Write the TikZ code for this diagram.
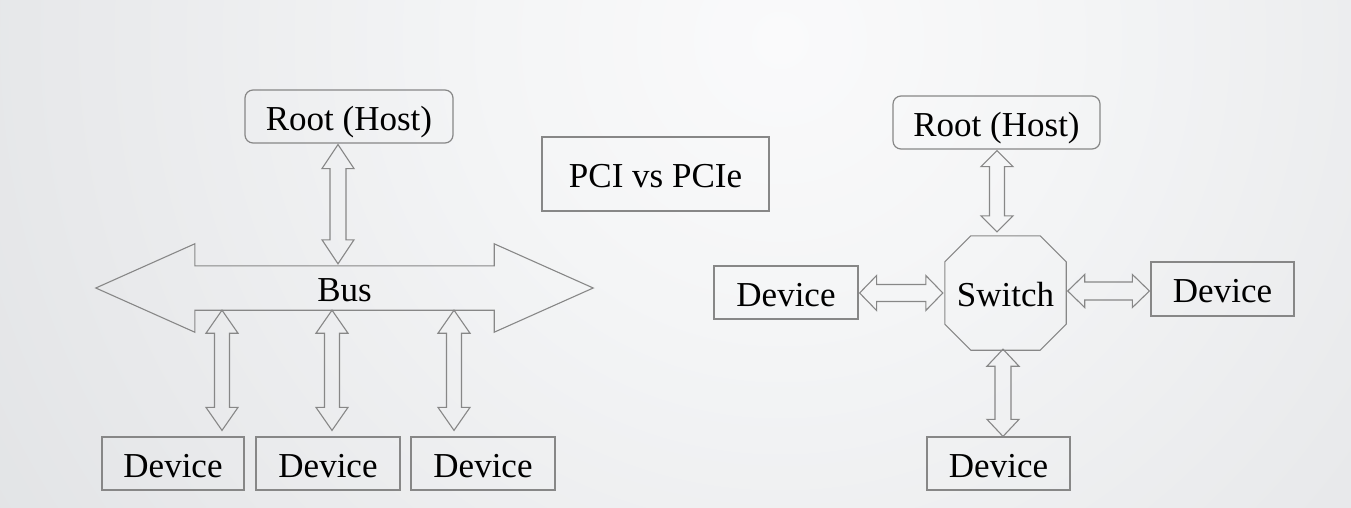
\documentclass[tikz,border=0pt]{standalone}
\usepackage{fontspec}
\setmainfont{Liberation Serif}
\usetikzlibrary{calc}
\definecolor{linegray}{RGB}{135,135,135}
\definecolor{bgA}{RGB}{250,250,251}
\definecolor{bgB}{RGB}{244,245,246}
\definecolor{bgC}{RGB}{232,233,235}
\definecolor{bgD}{RGB}{218,221,223}
\definecolor{bgE}{RGB}{211,215,218}
\pgfdeclareradialshading{bgshade}{\pgfpoint{0bp}{0bp}}{color(0bp)=(bgA); color(7.2bp)=(bgB); color(18bp)=(bgC); color(30bp)=(bgD); color(36bp)=(bgE); color(50bp)=(bgE)}
\newcommand\dblarr[5]{\draw[conn] (#1) -- ($(#1)!#5!(#2)!#3!90:(#2)$) -- ($(#1)!#5!(#2)!#4!90:(#2)$) -- ($(#2)!#5!(#1)!#4!-90:(#1)$) -- ($(#2)!#5!(#1)!#3!-90:(#1)$) -- (#2) -- ($(#2)!#5!(#1)!#3!90:(#1)$) -- ($(#2)!#5!(#1)!#4!90:(#1)$) -- ($(#1)!#5!(#2)!#4!-90:(#2)$) -- ($(#1)!#5!(#2)!#3!-90:(#2)$) -- cycle;}
\begin{document}
\begin{tikzpicture}[x=1pt,y=1pt,
  lbl/.style={inner sep=0pt,text height=27pt,text depth=0pt,font=\fontsize{35}{40}\selectfont,text=black},
  box/.style={lbl,draw=linegray,line width=1.2pt},
  rootbox/.style={box,rounded corners=8pt,text height=29pt},
  conn/.style={draw=linegray,line width=1.1pt,line join=miter}]
\useasboundingbox (0,0) rectangle (1351,-508);
\begin{scope}
  \clip (0,0) rectangle (1351,-508);
  \shade[shading=bgshade] (780,-40) circle (1000);
\end{scope}

% ---- PCI side ----
\node[rootbox,minimum width=208pt,minimum height=53pt] (root1) at (349,-116.5) {Root (Host)};
\node[lbl,minimum width=299pt,minimum height=44pt] (bus) at (344.5,-288) {Bus};
\draw[conn] (bus.north west) -- ($(bus.north west)+(0,22)$) -- ($(bus.west)+(-99,0)$)
  -- ($(bus.south west)+(0,-22)$) -- (bus.south west) -- (bus.south east)
  -- ($(bus.south east)+(0,-22)$) -- ($(bus.east)+(99,0)$)
  -- ($(bus.north east)+(0,22)$) -- (bus.north east) -- cycle;
\node[box,minimum width=142pt,minimum height=53pt] (d1) at (173,-463.5) {Device};
\node[box,minimum width=144pt,minimum height=53pt] (d2) at (328,-463.5) {Device};
\node[box,minimum width=144pt,minimum height=53pt] (d3) at (483,-463.5) {Device};

\coordinate (a1s) at ($(root1.south)+(-11,-1)$);
\coordinate (a1e) at ($(a1s |- bus.north)+(0,2)$);
\dblarr{a1s}{a1e}{16pt}{8pt}{24pt}
\coordinate (b1e) at ($(d1.north)+(49,6)$);
\coordinate (b1s) at (b1e |- bus.south);
\dblarr{b1s}{b1e}{16pt}{7.5pt}{23pt}
\coordinate (b2e) at ($(d2.north)+(4,6)$);
\coordinate (b2s) at (b2e |- bus.south);
\dblarr{b2s}{b2e}{16pt}{7.5pt}{23pt}
\coordinate (b3e) at ($(d3.north)+(-29,6)$);
\coordinate (b3s) at (b3e |- bus.south);
\dblarr{b3s}{b3e}{16pt}{7.5pt}{23pt}

% ---- title ----
\node[box,minimum width=227pt,minimum height=74pt] (title) at (655.5,-174) {PCI vs PCIe};

% ---- PCIe side ----
\node[rootbox,minimum width=207pt,minimum height=53pt,text height=28pt] (root2) at (996.5,-122.5) {Root (Host)};
\node[lbl,minimum width=121pt,minimum height=114pt] (sw) at (1005.5,-293) {Switch};
\draw[conn] ($(sw.north west)+(26,0)$) -- ($(sw.north east)+(-26,0)$) -- ($(sw.north east)+(0,-26)$)
  -- ($(sw.south east)+(0,26)$) -- ($(sw.south east)+(-26,0)$) -- ($(sw.south west)+(26,0)$)
  -- ($(sw.south west)+(0,26)$) -- ($(sw.north west)+(0,-26)$) -- cycle;
\node[box,minimum width=144pt,minimum height=53pt] (dl) at (786,-292.5) {Device};
\node[box,minimum width=143pt,minimum height=54pt] (dr) at (1222.5,-289) {Device};
\node[box,minimum width=143pt,minimum height=53pt] (db) at (998.5,-463.5) {Device};

\coordinate (r1s) at ($(root2.south)+(0.5,-1)$);
\coordinate (r1e) at ($(r1s |- sw.north)+(0,4)$);
\dblarr{r1s}{r1e}{16pt}{7.5pt}{16pt}
\coordinate (r2e) at ($(db.north)+(4.5,0)$);
\coordinate (r2s) at ($(r2e |- sw.south)+(0,1)$);
\dblarr{r2s}{r2e}{16pt}{8pt}{17pt}
\coordinate (r3s) at ($(dl.east)+(1,-0.5)$);
\coordinate (r3e) at ($(r3s -| sw.west)+(-2,0)$);
\dblarr{r3s}{r3e}{17.5pt}{8.5pt}{17pt}
\coordinate (r4s) at ($(sw.east)+(1.5,2)$);
\coordinate (r4e) at ($(r4s -| dr.west)+(-1,0)$);
\dblarr{r4s}{r4e}{16.5pt}{9pt}{17pt}
\end{tikzpicture}
\end{document}
